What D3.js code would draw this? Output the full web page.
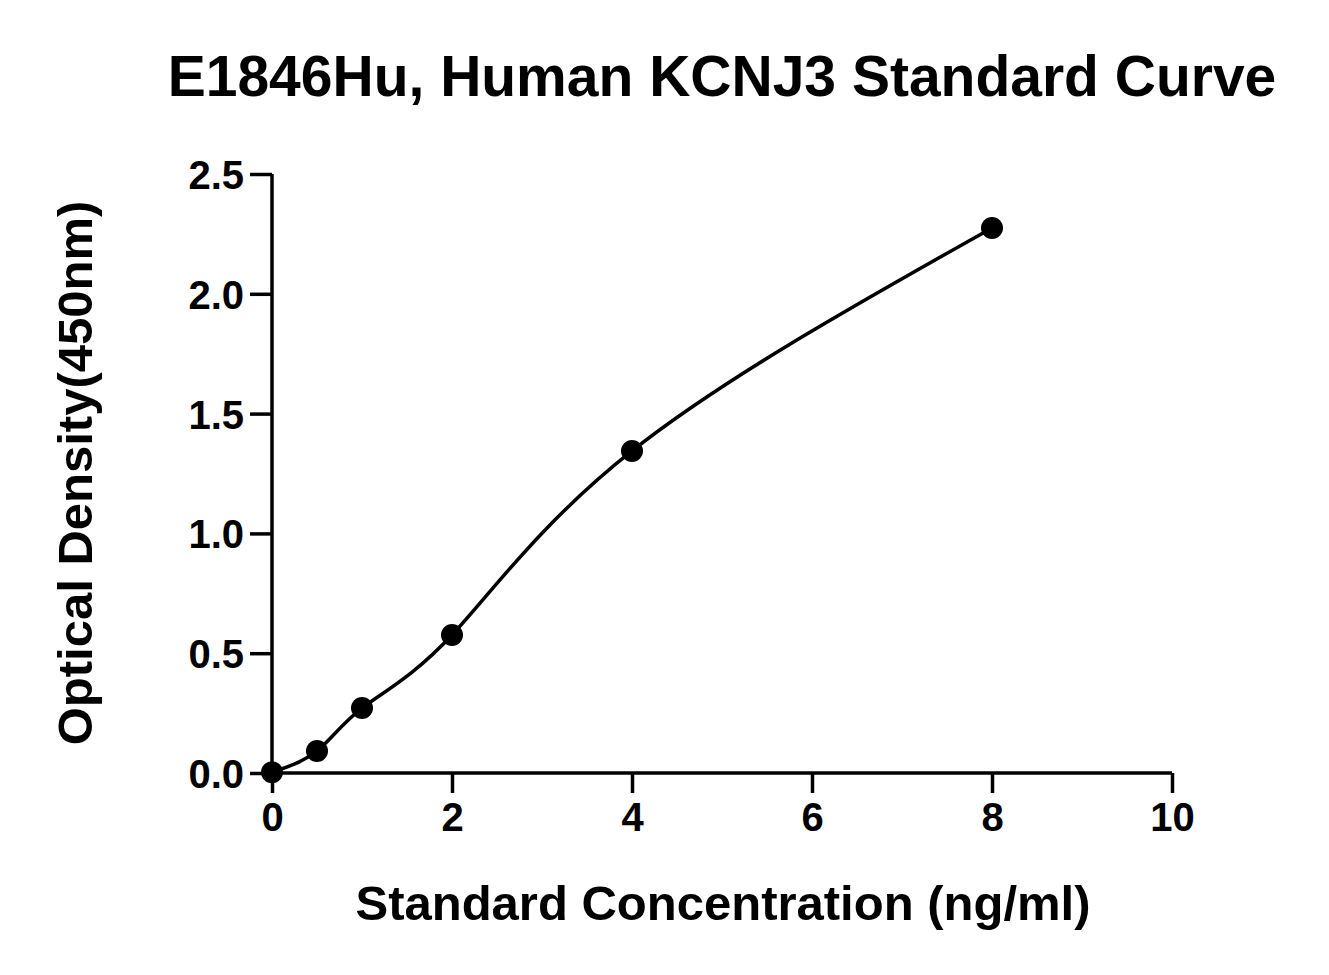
<!DOCTYPE html>
<html>
<head>
<meta charset="utf-8">
<script src="https://cdn.jsdelivr.net/npm/d3@7"></script>
<style>
  body { margin: 0; background: #fff; }
  text { font-family: "Liberation Sans", Arial, sans-serif; font-weight: bold; fill: #000; }
</style>
</head>
<body>
<svg id="chart" width="1329" height="975"></svg>
<script>
// standard curve readings
var concentrations = [0, 0.5, 1, 2, 4, 8];
var densities = [0.003, 0.092, 0.271, 0.576, 1.344, 2.275];
var xTicks = [0, 2, 4, 6, 8, 10];
var yTicks = [0, 0.5, 1.0, 1.5, 2.0, 2.5];

var svg = d3.select('#chart');
var x = d3.scaleLinear().domain([0, 10]).range([272, 1172]);
var y = d3.scaleLinear().domain([0, 2.5]).range([773, 174]);

var xAxis = svg.append('g')
  .attr('transform', 'translate(0,773)')
  .call(d3.axisBottom(x).tickValues(xTicks).tickSize(20).tickPadding(10).tickFormat(d3.format('d')));
var yAxis = svg.append('g')
  .attr('transform', 'translate(272,0)')
  .call(d3.axisLeft(y).tickValues(yTicks).tickSize(22).tickPadding(6).tickFormat(d3.format('.1f')));

[xAxis, yAxis].forEach(function(a) {
  a.select('.domain').attr('stroke', '#000').attr('stroke-width', 3.5);
  a.selectAll('.tick line').attr('stroke', '#000').attr('stroke-width', 3.5);
  a.selectAll('.tick text').style('font-size', '40px').style('font-family', '"Liberation Sans", Arial, sans-serif').style('font-weight', 'bold');
});
xAxis.select('.domain').attr('d', 'M272,0H1172');
yAxis.select('.domain').attr('d', 'M0,174V773');
yAxis.selectAll('.tick text').attr('dy', '0.36em');

var pts = concentrations.map(function(c, i) { return [c, densities[i]]; });

svg.append('path')
  .datum(pts)
  .attr('fill', 'none')
  .attr('stroke', '#000')
  .attr('stroke-width', 3.5)
  .attr('d', d3.line().x(function(d) { return x(d[0]); }).y(function(d) { return y(d[1]); }).curve(d3.curveNatural));

svg.selectAll('circle.pt')
  .data(pts)
  .enter().append('circle')
  .attr('class', 'pt')
  .attr('cx', function(d) { return x(d[0]); })
  .attr('cy', function(d) { return y(d[1]); })
  .attr('r', 11)
  .attr('fill', '#000');

svg.append('text')
  .attr('x', 722).attr('y', 96)
  .attr('text-anchor', 'middle')
  .style('font-size', '57px')
  .text('E1846Hu, Human KCNJ3 Standard Curve');

svg.append('text')
  .attr('x', 723).attr('y', 920)
  .attr('text-anchor', 'middle')
  .style('font-size', '49px')
  .text('Standard Concentration (ng/ml)');

svg.append('text')
  .attr('transform', 'translate(92,473) rotate(-90)')
  .attr('text-anchor', 'middle')
  .style('font-size', '49px')
  .text('Optical Density(450nm)');
</script>
</body>
</html>
